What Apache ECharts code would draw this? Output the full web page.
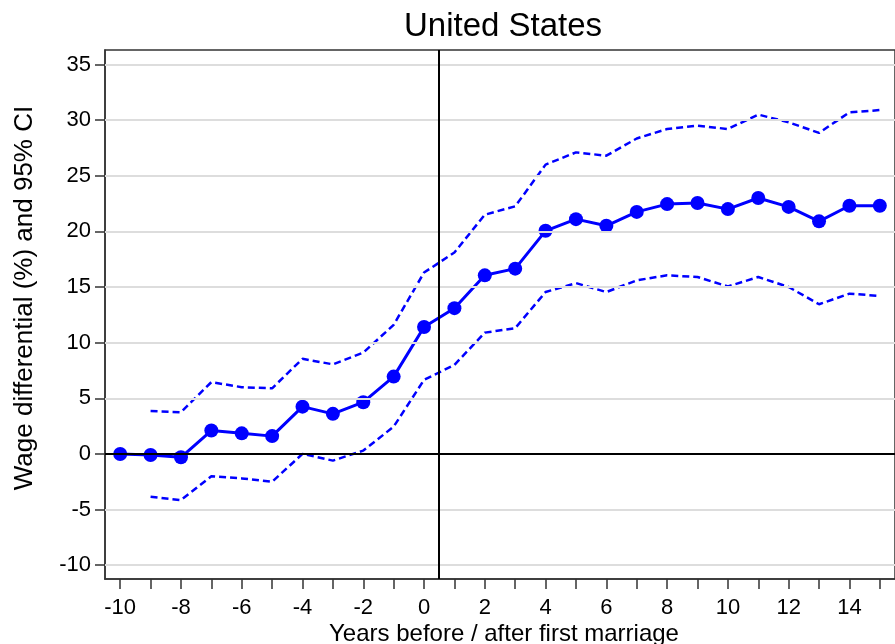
<!DOCTYPE html>
<html>
<head>
<meta charset="utf-8">
<script src="https://cdn.jsdelivr.net/npm/echarts@6/dist/echarts.min.js"></script>
<style>
html,body{margin:0;padding:0;background:#fff;}
#chart{width:895px;height:644px;}
</style>
</head>
<body>
<div id="chart"></div>
<script>
// ---- data ----
var years = [-10,-9,-8,-7,-6,-5,-4,-3,-2,-1,0,1,2,3,4,5,6,7,8,9,10,11,12,13,14,15];
var estimate = [0,-0.1,-0.3,2.1,1.85,1.6,4.25,3.6,4.65,6.95,11.4,13.1,16.05,16.65,20.05,21.1,20.5,21.75,22.45,22.55,22.0,23.0,22.2,20.9,22.3,22.3];
var upperCI = [null,3.85,3.75,6.45,6.0,5.9,8.55,8.05,9.1,11.6,16.3,18.1,21.5,22.25,26.0,27.1,26.8,28.35,29.2,29.5,29.2,30.5,29.8,28.85,30.7,30.9];
var lowerCI = [null,-3.85,-4.15,-2.0,-2.2,-2.5,0.0,-0.6,0.3,2.45,6.65,8.0,10.9,11.3,14.55,15.35,14.55,15.6,16.05,15.9,15.05,15.9,15.0,13.45,14.4,14.2];
var xTickValues = [-10,-9,-8,-7,-6,-5,-4,-3,-2,-1,0,1,2,3,4,5,6,7,8,9,10,11,12,13,14,15];
var xLabelValues = [-10,-8,-6,-4,-2,0,2,4,6,8,10,12,14];
var yTickValues = [-10,-5,0,5,10,15,20,25,30,35];
var titleText = 'United States';
var xTitle = 'Years before / after first marriage';
var yTitle = 'Wage differential (%) and 95% CI';
var markerYear = 0.5;

function pairs(ys){
  var out = [];
  for (var i = 0; i < years.length; i++) {
    if (ys[i] !== null) out.push([years[i], ys[i]]);
  }
  return out;
}

var FONT = 'Liberation Sans, Arial, sans-serif';
var chart = echarts.init(document.getElementById('chart'), null, {renderer:'canvas'});

var blue = '#0000ff';
var option = {
  animation: false,
  backgroundColor: '#ffffff',
  grid: {
    left: 105, top: 50, right: -5, bottom: 65,
    show: true, borderColor: '#333333', borderWidth: 1.5, backgroundColor: 'transparent'
  },
  xAxis: {
    type: 'value', min: -10.5, max: 15.5,
    axisLine: {show: true, onZero: false, lineStyle: {color: '#333333', width: 1.5}},
    axisTick: {show: true, length: 10, customValues: xTickValues, lineStyle: {color: '#333333', width: 1.5}},
    axisLabel: {show: true, customValues: xLabelValues, margin: 18, fontSize: 22, color: '#000', fontFamily: FONT},
    splitLine: {show: false}
  },
  yAxis: {
    type: 'value', min: -11.24, max: 36.3,
    axisLine: {show: true, onZero: false, lineStyle: {color: '#333333', width: 1.5}},
    axisTick: {show: true, length: 10, customValues: yTickValues, lineStyle: {color: '#333333', width: 1.5}},
    axisLabel: {show: true, customValues: yTickValues, margin: 14, fontSize: 22, color: '#000', fontFamily: FONT},
    splitLine: {show: false}
  },
  graphic: [
    {type: 'text', x: 503, y: 27, style: {text: titleText, font: '33px ' + FONT, fill: '#000', textAlign: 'center', textVerticalAlign: 'middle'}},
    {type: 'text', x: 504, y: 634, style: {text: xTitle, font: '24px ' + FONT, fill: '#000', textAlign: 'center', textVerticalAlign: 'middle'}},
    {type: 'text', x: 25, y: 298, rotation: Math.PI / 2, style: {text: yTitle, font: '26px ' + FONT, fill: '#000', textAlign: 'center', textVerticalAlign: 'middle'}}
  ],
  series: [
    {
      type: 'line', name: 'grid', data: [], silent: true, z: 1,
      markLine: {
        silent: true, symbol: 'none', label: {show: false},
        lineStyle: {color: '#dddddd', width: 2, type: 'solid'},
        data: yTickValues.filter(function(v){return v !== 0;}).map(function(v){return {yAxis: v};})
      }
    },
    {
      type: 'line', name: 'ref', data: [], silent: true, z: 2,
      markLine: {
        silent: true, symbol: 'none', label: {show: false},
        lineStyle: {color: '#000000', width: 2, type: 'solid'},
        data: [{yAxis: 0}, {xAxis: markerYear}]
      }
    },
    {
      type: 'line', name: 'upper', data: pairs(upperCI), showSymbol: false, symbol: 'none', z: 3,
      lineStyle: {color: blue, width: 2.5, type: [7, 4]}
    },
    {
      type: 'line', name: 'lower', data: pairs(lowerCI), showSymbol: false, symbol: 'none', z: 3,
      lineStyle: {color: blue, width: 2.5, type: [7, 4]}
    },
    {
      type: 'line', name: 'estimate', data: pairs(estimate), symbol: 'circle', symbolSize: 14, z: 4,
      lineStyle: {color: blue, width: 3}, itemStyle: {color: blue, borderWidth: 0}
    }
  ]
};
chart.setOption(option);
</script>
</body>
</html>
